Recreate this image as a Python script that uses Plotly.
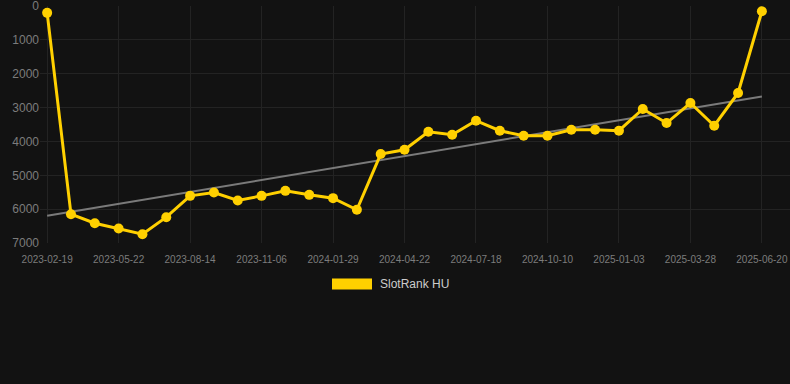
import plotly.graph_objects as go

dates = [
    "2023-02-19", "2023-03-22", "2023-04-22", "2023-05-22", "2023-06-19", "2023-07-17",
    "2023-08-14", "2023-09-11", "2023-10-09", "2023-11-06", "2023-12-04", "2024-01-01",
    "2024-01-29", "2024-02-26", "2024-03-25", "2024-04-22", "2024-05-21", "2024-06-19",
    "2024-07-18", "2024-08-15", "2024-09-12", "2024-10-10", "2024-11-07", "2024-12-06",
    "2025-01-03", "2025-01-31", "2025-02-28", "2025-03-28", "2025-04-25", "2025-05-23",
    "2025-06-20",
]
rank = [
    200, 6150, 6415, 6570, 6740, 6237,
    5607, 5510, 5745, 5607, 5460, 5577,
    5675, 6020, 4373, 4245, 3713, 3802,
    3388, 3683, 3831, 3831, 3654, 3654,
    3683, 3041, 3456, 2864, 3535, 2568,
    153,
]
tick_dates = dates[::3]
y_ticks = [0, 1000, 2000, 3000, 4000, 5000, 6000, 7000]
trend_x = [dates[0], dates[-1]]
trend_y = [6198, 2669]
series_name = "SlotRank HU"

YELLOW = "#FFD000"
BG = "#121212"
GRID = "#232323"

fig = go.Figure()
fig.add_trace(go.Scatter(
    x=trend_x, y=trend_y, mode="lines",
    line=dict(color="#7a7a7a", width=2),
    hoverinfo="skip", showlegend=False,
))
fig.add_trace(go.Scatter(
    x=dates, y=rank, mode="lines+markers", name=series_name,
    line=dict(color=YELLOW, width=3),
    marker=dict(color=YELLOW, size=10),
    cliponaxis=False, showlegend=False,
))

# manual legend
L, W, T, H = 40, 750, 6, 237
def px_x(p):
    return (p - L) / W
def px_y(p):
    return (T + H - p) / H

fig.add_shape(type="rect", xref="paper", yref="paper",
              x0=px_x(332), x1=px_x(372), y0=px_y(289.5), y1=px_y(278.5),
              fillcolor=YELLOW, line=dict(width=0))
fig.add_annotation(text=series_name, xref="paper", yref="paper",
                   x=px_x(378), y=px_y(284), xanchor="left", yanchor="middle",
                   showarrow=False, font=dict(color="#cccccc", size=12,
                                              family="Liberation Sans, Arial, sans-serif"))

fig.update_layout(
    width=790, height=384,
    margin=dict(l=L, r=0, t=T, b=384 - T - H),
    paper_bgcolor=BG, plot_bgcolor=BG,
    font=dict(family="Liberation Sans, Arial, sans-serif", color="#7c7c7c"),
    showlegend=False,
    xaxis=dict(
        type="category", categoryorder="array", categoryarray=dates,
        range=[-0.3, 31.18],
        tickmode="array", tickvals=tick_dates, ticktext=tick_dates,
        tickfont=dict(size=10, color="#7c7c7c"),
        ticklabelstandoff=9,
        showgrid=True, gridcolor=GRID, gridwidth=1,
        zeroline=False, showline=False, ticks="",
    ),
    yaxis=dict(
        range=[7000, -2], tickmode="array", tickvals=y_ticks,
        tickfont=dict(size=12, color="#7c7c7c"),
        ticklabeloverflow="allow",
        showgrid=True, gridcolor=GRID, gridwidth=1,
        zeroline=False, showline=False, ticks="",
    ),
)

fig.write_html("out.html",
               config={"displayModeBar": False},
               post_script="document.body.style.margin='0';document.body.style.background='#121212';")
